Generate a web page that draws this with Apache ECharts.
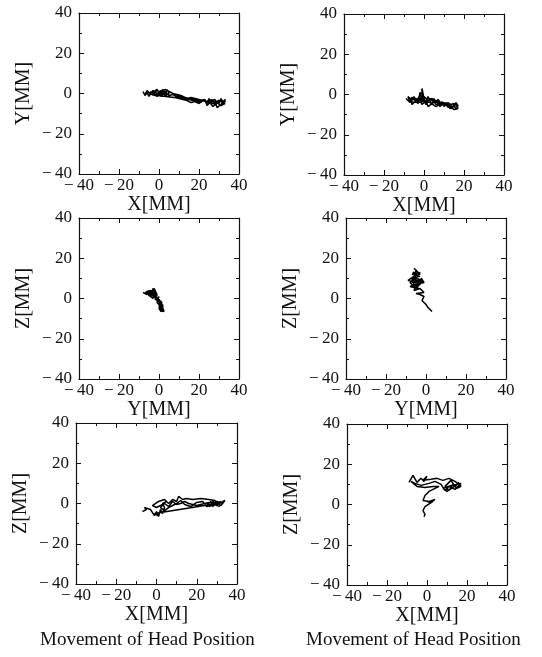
<!DOCTYPE html>
<html>
<head>
<meta charset="utf-8">
<script src="https://cdn.jsdelivr.net/npm/echarts@6/dist/echarts.min.js"></script>
<style>
  html, body { margin: 0; padding: 0; background: #fff; }
  #chart { width: 542px; height: 657px; }
</style>
</head>
<body>
<div id="chart"></div>
<script>
// axis range and ticks (mm)
const axisMin = -40;
const axisMax = 40;
const tickStep = 20;

// axis names for each panel, left column then right column, top to bottom
const xNames = ['X[MM]', 'X[MM]', 'Y[MM]', 'Y[MM]', 'X[MM]', 'X[MM]'];
const yNames = ['Y[MM]', 'Y[MM]', 'Z[MM]', 'Z[MM]', 'Z[MM]', 'Z[MM]'];
const captions = ['Movement of Head Position', 'Movement of Head Position'];

// head trajectories, [horizontal, vertical] in mm
const xyLeft = [
    [-8, 1], [-7, -1], [-6, 0.5], [-5, -1.5], [-4, 1], [-3, -1], [-2, 1.5], [-1, -0.5], [0, 1], [1, -1],
    [2, 1.5], [3, -0.5], [4, 2], [5, 0], [3, -1], [1, 1], [-1, -1.5], [-3, 0.5], [-5, -1], [-3, 1.5],
    [-1, 0], [1, -1.5], [3, 1], [5, -1], [7, -0.5], [9, -1.5], [11, -2], [13, -2.5], [15, -3], [17, -3.5],
    [19, -4], [21, -4.5], [22, -3.5], [20, -3], [18, -2.5], [16, -2], [14, -2.5], [12, -1.5], [10, -1], [8, -2],
    [10, -2.5], [12, -3], [14, -3.5], [16, -4.5], [18, -4], [20, -5], [22, -3], [24, -5], [25, -2.5], [26, -5.5],
    [27, -3], [28, -6], [29, -3.5], [30, -5], [31, -2.5], [32, -5.5], [33, -4], [34, -4.5], [33, -3], [31, -5.5],
    [29, -7], [28, -3], [26, -4], [24, -6], [23, -3], [21, -4], [19, -3.5], [17, -3], [15, -2.5], [13, -2],
    [11, -1], [9, -0.5], [7, 0], [5, 1], [3, 2], [1, 0.5], [-1, 1.5], [-3, -0.5], [-5, 0.5], [-7, -0.5],
    [-6, 1.5], [-4, -0.5], [-2, 0.5], [0, -1], [2, 0.5], [4, -1.5], [2, 2], [0, 0], [-2, -1], [-4, 0],
    [-1, 2], [1, -0.5], [3, 0.5], [1, 1.5], [-1, -1], [25, -4], [27, -6.5], [29, -4.5], [31, -6], [33, -5],
    [30, -3.5], [28, -4.5], [26, -3], [24, -4.5], [27, -5], [30, -4], [32, -3.5]
];
const xyRight = [
    [-9, -2], [-7, -4], [-8, -1], [-6, -3], [-5, -1], [-4, -4], [-3, -2], [-2, 0], [-1, -3], [-1, 3],
    [0, -2], [1, -4], [2, -1], [3, -3], [4, -5], [5, -2], [6, -4], [7, -3], [8, -5], [9, -3.5],
    [10, -6], [11, -4], [12, -6.5], [13, -4.5], [14, -7], [15, -5], [16, -7.5], [17, -5.5], [16, -4], [15, -6],
    [13, -7], [12, -5], [10, -4], [8, -6], [6, -3], [4, -4.5], [2, -6], [1, -3], [-1, -5], [-2, -2],
    [-4, -3], [-6, -5], [-7, -2], [-5, -2.5], [-3, -4.5], [-2, 1], [0, -1], [2, -3], [4, -2], [6, -5],
    [8, -4], [10, -5], [12, -4], [14, -6], [16, -5], [17, -7], [15, -7.5], [13, -6], [11, -5.5], [9, -5],
    [7, -2.5], [5, -4], [3, -2], [1, -5], [-1, -1], [-3, -3.5], [-5, -4], [-8, -3], [-6, -1.5], [-4, -2],
    [-2, -4], [0, -3], [3, -4], [6, -6], [9, -4], [12, -5.5], [15, -4.5], [17, -6]
];
const yzLeft = [
    [-8, 3], [-6, 2], [-5, 4], [-4, 1], [-3, 5], [-2, 3], [-4, 2], [-6, 3], [-5, 1.5], [-3, 0],
    [-2, 4], [-1, 2], [-3, 1], [-4, 3.5], [-2, 0.5], [-1, -1], [0, 1], [-1, -2], [0, -3], [1, -1],
    [0, -4], [1, -5], [2, -3], [1, -6], [2.5, -6.5], [2, -5], [0.5, -4], [1.5, -2], [0, -1.5], [-1, 0],
    [-2, 2], [-3, 2.5], [-5, 3], [-7, 2.5], [-6, 3.5], [-4, 4], [-3, 3], [-2, 1.5], [-1, 0.5], [0.5, -2.5],
    [1, -4], [2, -5.5], [1, -6.5], [0, -5], [1, -3], [-1, -0.5], [-2, 2.5], [-4, 2.5], [-6, 2.5], [-3, 4],
    [-2.5, 5], [-1.5, 3], [-3.5, 1.5], [-5, 2.5], [-7, 3], [-4.5, 3], [-2, 3.5], [-1, 1.5], [-2, -0.5], [0, -0.5],
    [1, -2], [0, -2.5], [1.5, -4], [0.5, -5.5], [2, -6.5], [1.5, -5], [2, -4], [0.5, -3.5]
];
const yzRight = [
    [-6, 15], [-4, 13], [-7, 12], [-3, 11], [-8, 10], [-4, 9], [-7, 8], [-2, 9.5], [-1, 8], [-5, 7],
    [-8, 6], [-4, 5], [-6, 10], [-5, 14], [-3, 12], [-6, 11], [-9, 9], [-5, 8], [-2, 10], [-4, 6],
    [-6, 7], [-7, 10], [-5, 12], [-3, 13], [-4, 11], [-6, 9], [-8, 8], [-6, 6], [-3, 8], [-1.5, 9],
    [-3, 7], [-5, 5.5], [-7, 9], [-4.5, 12.5], [-6.5, 13], [-5, 10], [-3, 9.5], [-5, 6],
    [-6, 4], [-3, 5], [-1, 3], [-5, 2.5], [-3, 2], [-1, 1], [-2, -1], [0, -3], [1, -4.5], [3, -6.5]
];
const xzLeft = [
    [-7, -4], [-5, -3], [-6, -2], [-3, -3], [-1, -6], [0, -4], [1, -6.5], [2, -3], [3, -5], [4, -2],
    [3, 0], [5, 1], [2, -1], [0, -2], [-2, -1], [1, 1], [4, 2], [6, 0], [8, 2], [10, 1],
    [11, 3.5], [13, 2], [15, 2.5], [18, 2], [22, 2.5], [26, 2], [29, 1.5], [31, 0], [33, 1], [34, 1.5],
    [32, -1], [30, 0.5], [28, -1.5], [27, 1], [25, -1], [26, 0.5], [24, 0], [22, -0.5], [20, -1], [18, -0.5],
    [16, 0], [14, 1], [12, 0], [10, -0.5], [8, 1], [6, -1.5], [4, 0], [2, -2], [4, -3.5], [6, -2],
    [8, -1], [10, 0], [12, 1.5], [14, -0.5], [17, -1.5], [20, 0.5], [23, 1], [25, -1.5], [28, 0], [30, -1],
    [32, 1], [29, -0.5], [26, -1.5], [28, 1], [31, -1.5], [33, 0], [30, 1], [27, -0.5], [-1, -5], [1, -5.5],
    [0, -6], [2, -4]
];
const xzRight = [
    [-9, 11], [-7, 14.5], [-5, 11], [-3, 13], [-1.5, 11.5], [0, 14], [-2, 12], [2, 12.5], [5, 13], [8, 12],
    [11, 13], [14, 11.5], [16, 10], [17, 9], [15, 8], [13, 10], [11, 7], [9, 9], [12, 12], [14, 9],
    [16, 11], [13, 8.5], [10, 6.5], [8, 8], [12, 9.5], [15, 10], [17, 10.5], [14, 7.5], [11, 9], [9, 7],
    [7, 10], [4, 11.5], [1, 10.5], [-3, 9.5], [-6, 10.5], [-8, 11.5], [-5, 9], [-1, 8.5], [3, 9], [6, 9],
    [4, 8], [1, 6.5], [-1, 4.5], [-2, 2], [1, 1.5], [4, 2.5], [2, 1], [0, 1.5], [3, 1.5], [-1, -1],
    [-2, -3], [-1, -5], [-1.5, -6]
];
const paths = [xyLeft, xyRight, yzLeft, yzRight, xzLeft, xzRight];

// plot boxes in pixels
const grids = [
    { left: 79, top: 13, width: 160, height: 161 },
    { left: 344, top: 14, width: 160, height: 161 },
    { left: 79, top: 218, width: 160, height: 161 },
    { left: 346, top: 218, width: 160, height: 161 },
    { left: 76, top: 423, width: 161, height: 161 },
    { left: 347, top: 424, width: 160, height: 161 }
];

const serif = '"Liberation Serif", "DejaVu Serif", serif';
const ink = '#111';

function tickText(v) {
    return v < 0 ? '\u2212\u2009' + Math.abs(v) : String(v);
}

function makeAxis(i, position, name) {
    const labelled = position === 'bottom' || position === 'left';
    return {
        type: 'value',
        gridIndex: i,
        position: position,
        min: axisMin,
        max: axisMax,
        interval: tickStep,
        name: labelled ? name : '',
        nameLocation: 'middle',
        nameGap: position === 'bottom' ? 17 : 45,
        nameTextStyle: { fontFamily: serif, fontSize: 20, color: ink },
        axisLine: { show: true, onZero: false, lineStyle: { color: ink, width: 1.2 } },
        axisTick: { show: true, inside: true, length: 5, lineStyle: { color: ink, width: 1 } },
        minorTick: { show: true, splitNumber: 2, length: 3, lineStyle: { color: ink, width: 1 } },
        axisLabel: {
            show: labelled,
            fontFamily: serif,
            fontSize: 17,
            color: ink,
            margin: position === 'bottom' ? 3 : 7,
            formatter: tickText
        },
        splitLine: { show: false }
    };
}

const xAxes = [];
const yAxes = [];
const series = [];
grids.forEach(function (g, i) {
    xAxes.push(makeAxis(i, 'bottom', xNames[i]));
    xAxes.push(makeAxis(i, 'top', ''));
    yAxes.push(makeAxis(i, 'left', yNames[i]));
    yAxes.push(makeAxis(i, 'right', ''));
    series.push({
        type: 'line',
        xAxisIndex: 2 * i,
        yAxisIndex: 2 * i,
        data: paths[i],
        showSymbol: false,
        lineStyle: { color: '#000', width: 1.5 },
        silent: true
    });
});

const options = {
    backgroundColor: '#fff',
    animation: false,
    grid: grids.map(function (g) { return Object.assign({ containLabel: false }, g); }),
    xAxis: xAxes,
    yAxis: yAxes,
    series: series,
    graphic: [
        { type: 'text', left: 40, top: 631, style: { text: captions[0], font: '19px ' + serif, fill: ink } },
        { type: 'text', left: 306, top: 631, style: { text: captions[1], font: '19px ' + serif, fill: ink } }
    ]
};

const E = echarts.init(document.getElementById('chart'));
window.onresize = function () {
    E.resize();
};
E.setOption(options);
</script>
</body>
</html>
